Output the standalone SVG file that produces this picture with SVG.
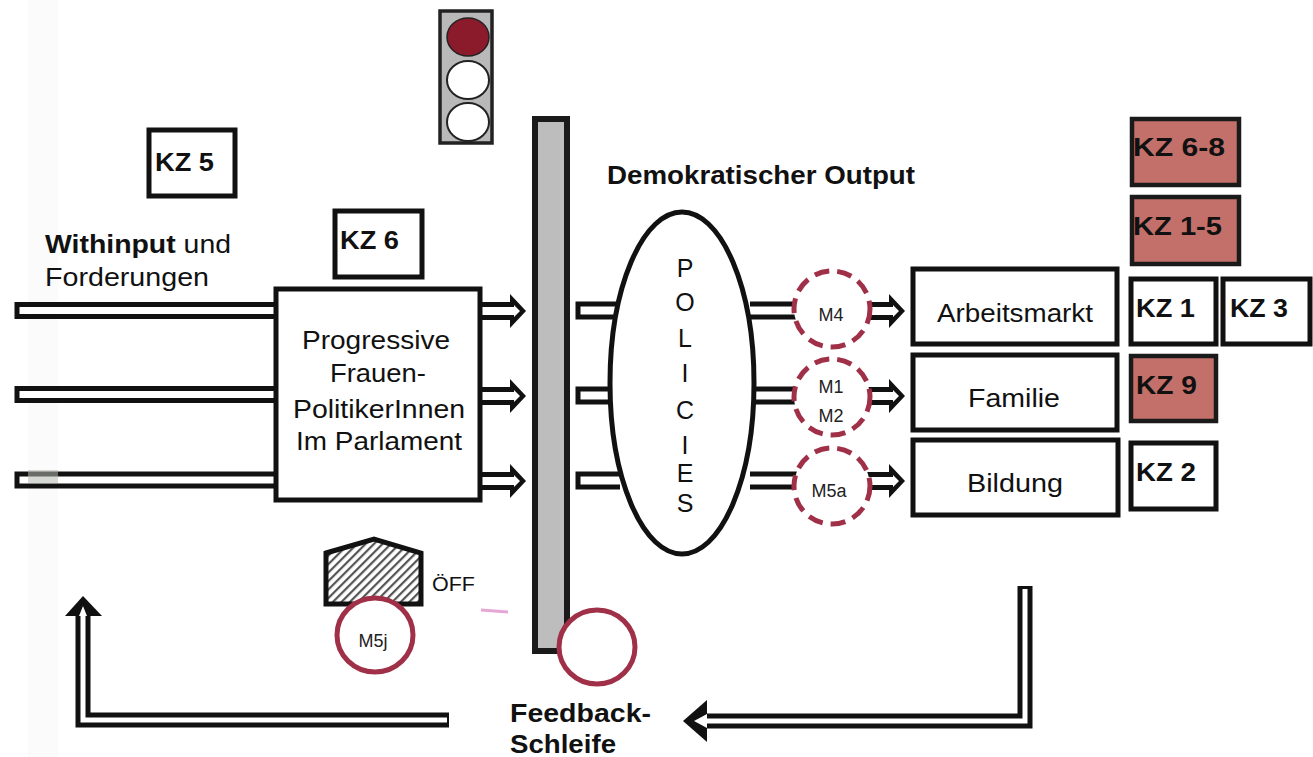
<svg xmlns="http://www.w3.org/2000/svg" width="1313" height="757" viewBox="0 0 1313 757">
<style>
text{font-family:"Liberation Sans",Arial,sans-serif;fill:#111}
.t{font-size:25px}
.c{text-anchor:middle}
.b{font-weight:700}
.kz{font-size:25px;font-weight:700}
.box{fill:#fff;stroke:#111;stroke-width:5}
.red{fill:#c4706a;stroke:#1a1a1a;stroke-width:4.500}
.dbl{fill:#fff;stroke:#111;stroke-width:5}
.bk{fill:none;stroke:#111;stroke-width:15}
.wh{fill:none;stroke:#fff;stroke-width:5}
.m{fill:#fff;stroke:#a03048;stroke-width:5;stroke-dasharray:15 8}
.ms{font-size:18px;fill:#222}
</style>
<defs>
<pattern id="hatch" width="6" height="6" patternUnits="userSpaceOnUse" patternTransform="rotate(45)">
<rect width="6" height="6" fill="#fff"/><rect width="2.200" height="6" fill="#555"/>
</pattern>
<g id="arrow-head">
<path d="M-46 -9H-16V-17L0 0L-16 17V9H-46Z" fill="#111"/>
<path d="M-46 -4H-12V-6L-6 0L-12 6V4H-46Z" fill="#fff"/>
</g>
</defs>
<rect width="1313" height="757" fill="#fff"/>
<rect x="28" y="0" width="30" height="757" fill="#fbfbfb"/>

<g id="connectors">
<path class="dbl" d="M276 304.500H17V316.500H276"/>
<path class="dbl" d="M276 388.500H17V400.500H276"/>
<path class="dbl" d="M276 474H17V486H276"/>
<rect x="28" y="470" width="30" height="13" fill="#b5b8b0" opacity=".55"/>
<use href="#arrow-head" x="526" y="311"/>
<use href="#arrow-head" x="526" y="396"/>
<use href="#arrow-head" x="526" y="481"/>
<path class="dbl" d="M620 304H578V317H620"/>
<path class="dbl" d="M620 389H578V402H620"/>
<path class="dbl" d="M620 474H578V487H620"/>
<path class="dbl" d="M750 304H800V317H750"/>
<path class="dbl" d="M750 389H800V402H750"/>
<path class="dbl" d="M750 474H800V487H750"/>
<use href="#arrow-head" x="905" y="311"/>
<use href="#arrow-head" x="905" y="396"/>
<use href="#arrow-head" x="905" y="481"/>
<path class="bk" d="M449 720H83V612"/>
<path class="wh" d="M447 720H83V612"/>
<path d="M83 596L102 616H65Z" fill="#111"/>
<path d="M83 606L87 616H79Z" fill="#fff"/>
<path class="bk" d="M1025 586V721H700"/>
<path class="wh" d="M1025 589V721H700"/>
<path d="M683 721L707 700V742Z" fill="#111"/>
<path d="M694 721L707 714V728Z" fill="#fff"/>
<path d="M481 610L508 612" stroke="#e6a6d6" stroke-width="3" fill="none"/>
</g>

<g id="traffic-light">
<rect x="440" y="11" width="52" height="132" fill="#b9b9b9" stroke="#222" stroke-width="3.500"/>
<ellipse cx="468" cy="37" rx="21" ry="19" fill="#8b1a2a" stroke="#222" stroke-width="1.500"/>
<ellipse cx="468" cy="80" rx="21" ry="19" fill="#fff" stroke="#222" stroke-width="2"/>
<ellipse cx="468" cy="122" rx="21" ry="19" fill="#fff" stroke="#222" stroke-width="2"/>
</g>

<g id="kz5"><rect class="box" x="149" y="130" width="86" height="66"/><text class="kz" x="155" y="171" textLength="59" lengthAdjust="spacingAndGlyphs">KZ 5</text></g>
<g id="kz6"><rect class="box" x="335" y="211" width="87" height="66"/><text class="kz" x="340" y="249" textLength="59" lengthAdjust="spacingAndGlyphs">KZ 6</text></g>

<g id="withinput">
<text class="t" x="45" y="253" textLength="186" lengthAdjust="spacingAndGlyphs"><tspan class="b">Withinput</tspan> und</text>
<text class="t" x="45" y="286" textLength="164" lengthAdjust="spacingAndGlyphs">Forderungen</text>
</g>

<g id="parlament">
<rect class="box" x="276" y="289" width="204" height="211"/>
<text class="t" x="302" y="349" textLength="148" lengthAdjust="spacingAndGlyphs">Progressive</text>
<text class="t" x="330" y="382" textLength="96" lengthAdjust="spacingAndGlyphs">Frauen-</text>
<text class="t" x="293" y="418" textLength="172" lengthAdjust="spacingAndGlyphs">PolitikerInnen</text>
<text class="t" x="296" y="450" textLength="166" lengthAdjust="spacingAndGlyphs">Im Parlament</text>
</g>

<g id="bar"><rect x="535" y="119" width="32" height="532" fill="#bdbdbd" stroke="#1a1a1a" stroke-width="6"/></g>
<g id="feedback-circle"><ellipse cx="597" cy="647" rx="38" ry="37" fill="#fff" stroke="#a03048" stroke-width="5"/></g>

<g id="off">
<path d="M326 553L374 539L421 553V604H326Z" fill="url(#hatch)" stroke="#111" stroke-width="5"/>
<text x="432" y="591" style="font-size:21px" textLength="43" lengthAdjust="spacingAndGlyphs">ÖFF</text>
</g>
<g id="m5j"><ellipse cx="375" cy="635" rx="38" ry="37" fill="#fff" stroke="#a03048" stroke-width="5"/><text class="ms c" x="373" y="647">M5j</text></g>

<g id="output-title"><text class="t b" x="607" y="184" textLength="308" lengthAdjust="spacingAndGlyphs">Demokratischer Output</text></g>

<g id="policies">
<ellipse cx="682" cy="383" rx="72" ry="171" fill="#fff" stroke="#111" stroke-width="5"/>
<text class="t c" x="685" y="277">P</text>
<text class="t c" x="685" y="311">O</text>
<text class="t c" x="685" y="347">L</text>
<text class="t c" x="685" y="382">I</text>
<text class="t c" x="685" y="419">C</text>
<text class="t c" x="685" y="454">I</text>
<text class="t c" x="685" y="482">E</text>
<text class="t c" x="685" y="512">S</text>
</g>

<g id="m4"><ellipse class="m" cx="832" cy="309" rx="38" ry="38"/><text class="ms c" x="831" y="321">M4</text></g>
<g id="m1m2"><ellipse class="m" cx="832" cy="397" rx="38" ry="38"/><text class="ms c" x="831" y="393">M1</text><text class="ms c" x="831" y="422">M2</text></g>
<g id="m5a"><ellipse class="m" cx="832" cy="486" rx="38" ry="38"/><text class="ms c" x="829" y="497">M5a</text></g>

<g id="arbeitsmarkt"><rect class="box" x="913" y="269" width="204" height="75"/><text class="t" x="937" y="322" textLength="156" lengthAdjust="spacingAndGlyphs">Arbeitsmarkt</text></g>
<g id="familie"><rect class="box" x="913" y="355" width="204" height="75"/><text class="t" x="968" y="407" textLength="92" lengthAdjust="spacingAndGlyphs">Familie</text></g>
<g id="bildung"><rect class="box" x="913" y="440" width="205" height="75"/><text class="t" x="967" y="492" textLength="96" lengthAdjust="spacingAndGlyphs">Bildung</text></g>

<g id="kz68"><rect class="red" x="1132" y="119" width="107" height="66"/><text class="kz" x="1133" y="156" textLength="92" lengthAdjust="spacingAndGlyphs">KZ 6-8</text></g>
<g id="kz15"><rect class="red" x="1132" y="197" width="107" height="67"/><text class="kz" x="1133" y="235" textLength="89" lengthAdjust="spacingAndGlyphs">KZ 1-5</text></g>
<g id="kz1"><rect class="box" x="1131" y="279" width="85" height="65"/><text class="kz" x="1136" y="317" textLength="59" lengthAdjust="spacingAndGlyphs">KZ 1</text></g>
<g id="kz3"><rect class="box" x="1223" y="279" width="87" height="65"/><text class="kz" x="1230" y="317" textLength="58" lengthAdjust="spacingAndGlyphs">KZ 3</text></g>
<g id="kz9"><rect class="red" x="1131" y="356" width="85" height="65"/><text class="kz" x="1136" y="394" textLength="61" lengthAdjust="spacingAndGlyphs">KZ 9</text></g>
<g id="kz2"><rect class="box" x="1131" y="443" width="85" height="66"/><text class="kz" x="1136" y="481" textLength="60" lengthAdjust="spacingAndGlyphs">KZ 2</text></g>

<g id="feedback-label">
<text class="t b" x="510" y="722" textLength="141" lengthAdjust="spacingAndGlyphs">Feedback-</text>
<text class="t b" x="510" y="753" textLength="106" lengthAdjust="spacingAndGlyphs">Schleife</text>
</g>
</svg>
